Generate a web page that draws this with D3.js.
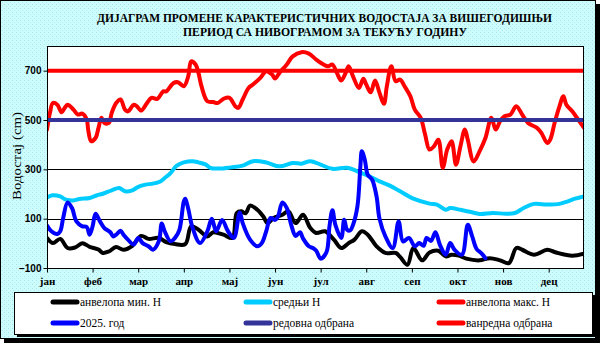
<!DOCTYPE html>
<html>
<head>
<meta charset="utf-8">
<script src="https://cdn.jsdelivr.net/npm/d3@7"></script>
<style>
  html, body { margin: 0; padding: 0; background: #fff; }
  svg { display: block; }
</style>
</head>
<body>
<svg id="chart" width="600" height="343"></svg>
<script>
// Month labels, one every 31 days of the hydrological year
const months = ["јан", "феб", "мар", "апр", "мај", "јун", "јул", "авг", "сеп", "окт", "нов", "дец"];
const yTicks = [-100, 100, 300, 500, 700];

// Defence levels (cm)
const regularDefence = 500;
const emergencyDefence = 700;

// Series: [day of year, water level in cm]
const minEnvelope = [
  [0, 22], [4, 1], [9, 18], [14, -19], [19, -17], [24, 0], [29, -14], [35, -25], [38, -39],
  [42, -33], [47, -15], [52, -26], [58, -10], [64, 30], [69, 18], [76, 22], [81, 5], [87, -3],
  [94, -3], [98, 69], [103, 55], [109, 28], [113, 45], [120, 35], [126, 22], [129, 123],
  [132, 130], [135, 122], [138, 153], [143, 136], [147, 109], [150, 82], [154, 103], [160, 116],
  [164, 130], [169, 82], [174, 116], [179, 62], [183, 42], [189, 49], [195, 15], [200, -19],
  [205, 1], [209, 15], [214, 49], [218, 35], [224, -12], [230, -39], [237, -39], [240, -55],
  [245, -87], [249, -19], [255, -69], [260, -37], [266, -30], [271, -53], [275, -46], [280, -50],
  [285, -62], [294, -69], [301, -60], [308, -69], [314, -80], [319, -19], [323, -26], [331, -46],
  [340, -26], [346, -37], [357, -50], [365, -42]
];

const meanLevel = [
  [0, 186], [4, 195], [9, 190], [13, 177], [18, 174], [22, 180], [29, 184], [34, 195], [38, 201],
  [44, 215], [49, 224], [53, 211], [58, 215], [62, 229], [67, 238], [72, 242], [77, 251], [80, 265],
  [84, 285], [88, 314], [93, 328], [99, 333], [103, 328], [108, 319], [111, 306], [117, 303],
  [125, 308], [133, 315], [140, 333], [149, 328], [158, 312], [167, 326], [173, 323], [179, 333],
  [186, 319], [194, 302], [204, 306], [211, 292], [219, 272], [226, 251], [233, 234], [240, 211],
  [249, 181], [260, 161], [265, 157], [271, 136], [274, 143], [281, 136], [288, 127], [294, 119],
  [303, 123], [312, 120], [318, 123], [324, 143], [331, 160], [340, 157], [349, 161], [354, 170],
  [359, 181], [365, 190]
];

const maxEnvelope = [
  [0, 461], [2, 529], [4, 569], [7, 562], [10, 531], [12, 549], [14, 562], [18, 542], [21, 522],
  [24, 526], [27, 502], [28, 460], [30, 414], [33, 427], [35, 468], [37, 509], [39, 488], [42, 488],
  [44, 529], [47, 569], [50, 583], [53, 542], [55, 535], [59, 562], [61, 556], [64, 538], [68, 569],
  [71, 590], [75, 586], [79, 616], [81, 616], [86, 650], [89, 653], [93, 637], [96, 677], [98, 738],
  [101, 725], [103, 690], [105, 637], [109, 576], [113, 573], [116, 569], [120, 586], [124, 590],
  [128, 556], [130, 549], [133, 583], [137, 630], [140, 644], [145, 671], [149, 698], [153, 684],
  [155, 668], [158, 691], [163, 725], [167, 758], [173, 775], [178, 769], [183, 745], [188, 725],
  [191, 718], [194, 725], [197, 691], [200, 660], [203, 691], [205, 718], [208, 677], [212, 630],
  [215, 667], [217, 644], [220, 612], [223, 660], [226, 610], [229, 566], [231, 637], [234, 718],
  [237, 657], [240, 664], [243, 637], [247, 596], [250, 542], [254, 509], [257, 441], [260, 380],
  [263, 393], [266, 420], [269, 306], [272, 380], [275, 414], [278, 319], [281, 393], [284, 461],
  [286, 420], [290, 332], [294, 373], [298, 427], [302, 509], [305, 461], [308, 495], [311, 515],
  [315, 522], [319, 556], [323, 522], [327, 488], [333, 468], [336, 448], [340, 407], [342, 420],
  [345, 488], [348, 549], [351, 596], [353, 562], [357, 535], [361, 502], [365, 468]
];

const level2025 = [
  [0, 72], [3, 49], [7, 38], [9, 49], [11, 103], [14, 166], [17, 143], [20, 89], [24, 69], [27, 66],
  [29, 35], [31, 69], [33, 120], [36, 89], [39, 62], [43, 45], [45, 28], [47, 35], [50, 51], [52, 35],
  [55, 15], [59, -5], [62, 22], [65, 1], [69, -12], [72, -26], [76, 8], [78, 80], [80, 49], [84, 8],
  [87, 22], [90, 55], [93, 170], [94, 181], [96, 140], [99, 62], [104, 1], [109, 49], [112, 100],
  [115, 49], [119, 95], [123, 49], [127, 22], [131, 125], [133, 82], [138, 15], [143, -12], [146, 1],
  [149, 49], [152, 103], [155, 95], [157, 109], [160, 166], [163, 143], [166, 75], [169, 30],
  [172, 45], [174, 20], [178, -12], [181, -20], [183, -30], [186, -62], [190, -35], [192, 69],
  [194, 134], [196, 75], [200, 22], [202, 96], [204, 55], [206, 52], [208, 75], [211, 150],
  [213, 312], [214, 373], [216, 339], [218, 278], [221, 258], [224, 190], [226, 100], [230, 28],
  [235, -19], [239, 89], [242, 8], [246, 22], [250, -12], [253, 1], [256, -10], [258, 22], [261, 10],
  [264, 45], [267, -5], [271, -46], [274, 1], [277, -26], [282, -46], [286, 75], [289, 28],
  [292, -23], [295, -39], [298, -60]
];

const seriesList = [
  { name: "анвелопа мин. H", data: minEnvelope, color: "#000000" },
  { name: "средњи H", data: meanLevel, color: "#00ccff" },
  { name: "анвелопа макс. H", data: maxEnvelope, color: "#ff0000" },
  { name: "2025. год", data: level2025, color: "#0000ff" }
];
const levelList = [
  { name: "редовна одбрана", value: regularDefence, color: "#333399" },
  { name: "ванредна одбрана", value: emergencyDefence, color: "#ff0000" }
];

const svg = d3.select("#chart");
const W = 600, H = 343;
const plot = { left: 47, right: 584, top: 46, bottom: 268 };

// Speckled aqua background
const defs = svg.append("defs");
const pat = defs.append("pattern").attr("id", "speckle")
  .attr("width", 4).attr("height", 4).attr("patternUnits", "userSpaceOnUse");
pat.append("rect").attr("width", 4).attr("height", 4).attr("fill", "#ccfcfc");
pat.append("rect").attr("x", 0).attr("y", 0).attr("width", 1).attr("height", 1).attr("fill", "#a6e4ec");
pat.append("rect").attr("x", 2).attr("y", 2).attr("width", 1).attr("height", 1).attr("fill", "#b4eaf0");

// Chart frame with drop shadow
svg.append("rect").attr("x", 4).attr("y", 4).attr("width", W - 4).attr("height", H - 4).attr("fill", "#000");
svg.append("rect").attr("x", 0.5).attr("y", 0.5).attr("width", W - 5).attr("height", H - 5)
  .attr("fill", "url(#speckle)").attr("stroke", "#000").attr("stroke-width", 1);

// Title
const title = svg.append("g")
  .attr("font-family", "'Liberation Serif', 'Times New Roman', serif")
  .attr("font-weight", "bold").attr("font-size", 11.5).attr("text-anchor", "middle").attr("fill", "#000");
title.append("text").attr("x", 324.5).attr("y", 22)
  .attr("textLength", 455).attr("lengthAdjust", "spacingAndGlyphs")
  .text("ДИЈАГРАМ ПРОМЕНЕ КАРАКТЕРИСТИЧНИХ ВОДОСТАЈА ЗА ВИШЕГОДИШЊИ");
title.append("text").attr("x", 325).attr("y", 36)
  .attr("textLength", 284).attr("lengthAdjust", "spacingAndGlyphs")
  .text("ПЕРИОД СА НИВОГРАМОМ ЗА ТЕКУЋУ ГОДИНУ");

// Scales
const x = d3.scaleLinear().domain([0, 365]).range([plot.left, plot.right]);
const y = d3.scaleLinear().domain([-100, 800]).range([plot.bottom, plot.top]);

// Plot area
svg.append("rect").attr("x", plot.left).attr("y", plot.top)
  .attr("width", plot.right - plot.left).attr("height", plot.bottom - plot.top)
  .attr("fill", "#fff");

// Horizontal gridlines
svg.append("g").selectAll("line").data(yTicks).join("line")
  .attr("x1", plot.left).attr("x2", plot.right)
  .attr("y1", d => Math.round(y(d)) + 0.5).attr("y2", d => Math.round(y(d)) + 0.5)
  .attr("stroke", "#000").attr("stroke-width", 1);

const clip = defs.append("clipPath").attr("id", "plotClip");
clip.append("rect").attr("x", plot.left).attr("y", plot.top - 3)
  .attr("width", plot.right - plot.left).attr("height", plot.bottom - plot.top + 3);

const lineGen = d3.line()
  .x(d => x(d[0])).y(d => y(d[1]))
  .curve(d3.curveCatmullRom.alpha(0.5));

const marks = svg.append("g").attr("clip-path", "url(#plotClip)");
marks.selectAll("path.series").data(seriesList).join("path")
  .attr("class", "series")
  .attr("d", d => lineGen(d.data))
  .attr("fill", "none").attr("stroke", d => d.color)
  .attr("stroke-width", 4).attr("stroke-linejoin", "round").attr("stroke-linecap", "round");

marks.selectAll("line.level").data(levelList).join("line")
  .attr("class", "level")
  .attr("x1", plot.left).attr("x2", plot.right)
  .attr("y1", d => y(d.value)).attr("y2", d => y(d.value))
  .attr("stroke", d => d.color).attr("stroke-width", 4);

// Plot border
svg.append("rect").attr("x", plot.left + 0.5).attr("y", plot.top + 0.5)
  .attr("width", plot.right - plot.left - 1).attr("height", plot.bottom - plot.top)
  .attr("fill", "none").attr("stroke", "#000").attr("stroke-width", 1);

// Y axis
const yAxis = svg.append("g").attr("transform", `translate(${plot.left + 0.5},0)`)
  .call(d3.axisLeft(y).tickValues(yTicks).tickSize(4).tickPadding(2).tickFormat(d3.format("d")));
yAxis.select(".domain").remove();
yAxis.selectAll("line").attr("stroke", "#000");
yAxis.selectAll("text")
  .attr("font-family", "'Liberation Sans', Arial, sans-serif")
  .attr("font-weight", "bold").attr("font-size", 10).attr("fill", "#000");

// X axis: a tick every 31 days
const xAxis = svg.append("g").attr("transform", `translate(0,${plot.bottom + 0.5})`)
  .call(d3.axisBottom(x).tickValues(months.map((m, i) => i * 31))
    .tickSize(4).tickPadding(5).tickFormat((d, i) => months[i]));
xAxis.select(".domain").remove();
xAxis.selectAll("line").attr("stroke", "#000");
xAxis.selectAll("text")
  .attr("font-family", "'Liberation Serif', 'Times New Roman', serif")
  .attr("font-weight", "bold").attr("font-size", 11).attr("fill", "#000");

// Y axis title
svg.append("text")
  .attr("transform", "translate(20.5,156) rotate(-90)")
  .attr("text-anchor", "middle")
  .attr("font-family", "'Liberation Serif', 'Times New Roman', serif")
  .attr("font-size", 13.5).attr("fill", "#000")
  .attr("textLength", 88).attr("lengthAdjust", "spacingAndGlyphs")
  .text("Водостај (cm)");

// Legend
const legend = { left: 14, top: 292, right: 592, bottom: 334 };
svg.append("rect").attr("x", legend.left + 3).attr("y", legend.top + 3)
  .attr("width", legend.right - legend.left).attr("height", legend.bottom - legend.top).attr("fill", "#000");
svg.append("rect").attr("x", legend.left + 0.5).attr("y", legend.top + 0.5)
  .attr("width", legend.right - legend.left).attr("height", legend.bottom - legend.top)
  .attr("fill", "#fff").attr("stroke", "#000");

const legendItems = [
  { name: seriesList[0].name, color: seriesList[0].color },
  { name: seriesList[1].name, color: seriesList[1].color },
  { name: seriesList[2].name, color: seriesList[2].color },
  { name: seriesList[3].name, color: seriesList[3].color },
  { name: levelList[0].name, color: levelList[0].color },
  { name: levelList[1].name, color: levelList[1].color }
];
const colX = [51, 244, 437];
const rowY = [302, 323];
const li = svg.append("g").selectAll("g").data(legendItems).join("g")
  .attr("transform", (d, i) => `translate(${colX[i % 3]},${rowY[Math.floor(i / 3)]})`);
li.append("line").attr("x1", 2).attr("x2", 26).attr("y1", 0).attr("y2", 0)
  .attr("stroke", d => d.color).attr("stroke-width", 5).attr("stroke-linecap", "round");
li.append("text").attr("x", 29).attr("y", 0).attr("dy", "0.35em")
  .attr("font-family", "'Liberation Serif', 'Times New Roman', serif")
  .attr("font-size", 11.5).attr("fill", "#000")
  .text(d => d.name);
</script>
</body>
</html>
